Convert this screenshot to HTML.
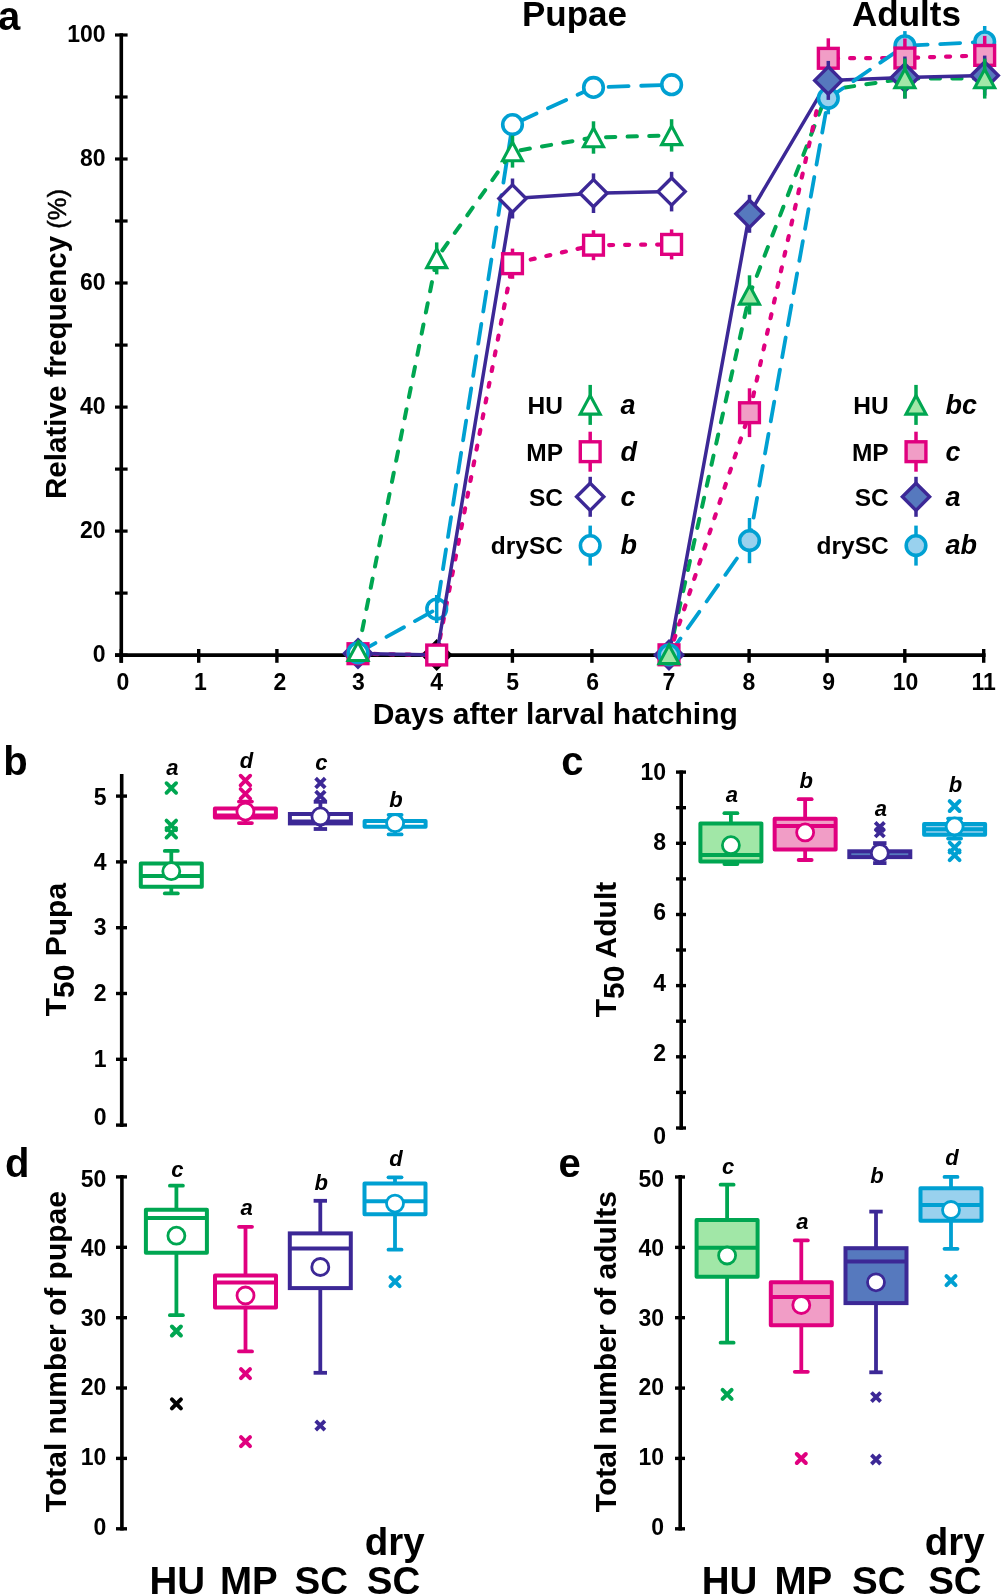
<!DOCTYPE html>
<html><head><meta charset="utf-8"><style>
html,body{margin:0;padding:0;background:#fff;}
body{width:1001px;height:1596px;overflow:hidden;}
svg{display:block;will-change:transform;}
</style></head><body>
<svg width="1001" height="1596" viewBox="0 0 1001 1596">
<rect width="1001" height="1596" fill="#fff"/>
<g stroke="#000" fill="none">
<line x1="121.3" y1="33.3" x2="121.3" y2="662.8" stroke-width="3.6"/>
<line x1="115" y1="655.1" x2="985.6" y2="655.1" stroke-width="3.7"/>
<line x1="115" y1="655.1" x2="127.6" y2="655.1" stroke-width="3.2"/>
<line x1="115" y1="593.1" x2="127.6" y2="593.1" stroke-width="3.2"/>
<line x1="115" y1="531.1" x2="127.6" y2="531.1" stroke-width="3.2"/>
<line x1="115" y1="469.1" x2="127.6" y2="469.1" stroke-width="3.2"/>
<line x1="115" y1="407.1" x2="127.6" y2="407.1" stroke-width="3.2"/>
<line x1="115" y1="345.1" x2="127.6" y2="345.1" stroke-width="3.2"/>
<line x1="115" y1="283.0" x2="127.6" y2="283.0" stroke-width="3.2"/>
<line x1="115" y1="221.0" x2="127.6" y2="221.0" stroke-width="3.2"/>
<line x1="115" y1="159.0" x2="127.6" y2="159.0" stroke-width="3.2"/>
<line x1="115" y1="97.0" x2="127.6" y2="97.0" stroke-width="3.2"/>
<line x1="115" y1="35.0" x2="127.6" y2="35.0" stroke-width="3.2"/>
<line x1="121.2" y1="649" x2="121.2" y2="662.8" stroke-width="3.4"/>
<line x1="198.7" y1="649" x2="198.7" y2="662.8" stroke-width="3.4"/>
<line x1="276.9" y1="649" x2="276.9" y2="662.8" stroke-width="3.4"/>
<line x1="357.8" y1="649" x2="357.8" y2="662.8" stroke-width="3.4"/>
<line x1="436.2" y1="649" x2="436.2" y2="662.8" stroke-width="3.4"/>
<line x1="512.4" y1="649" x2="512.4" y2="662.8" stroke-width="3.4"/>
<line x1="591.9" y1="649" x2="591.9" y2="662.8" stroke-width="3.4"/>
<line x1="670.0" y1="649" x2="670.0" y2="662.8" stroke-width="3.4"/>
<line x1="749.1" y1="649" x2="749.1" y2="662.8" stroke-width="3.4"/>
<line x1="827.1" y1="649" x2="827.1" y2="662.8" stroke-width="3.4"/>
<line x1="904.8" y1="649" x2="904.8" y2="662.8" stroke-width="3.4"/>
<line x1="983.7" y1="649" x2="983.7" y2="662.8" stroke-width="3.4"/>
</g>
<g font-family="Liberation Sans, sans-serif" font-weight="bold" font-size="23" fill="#000">
<text x="105.6" y="661.7" text-anchor="end">0</text>
<text x="105.6" y="537.7" text-anchor="end">20</text>
<text x="105.6" y="413.7" text-anchor="end">40</text>
<text x="105.6" y="289.6" text-anchor="end">60</text>
<text x="105.6" y="165.6" text-anchor="end">80</text>
<text x="105.6" y="41.6" text-anchor="end">100</text>
<text x="122.9" y="690.2" text-anchor="middle">0</text>
<text x="200.3" y="690.2" text-anchor="middle">1</text>
<text x="280.0" y="690.2" text-anchor="middle">2</text>
<text x="358.5" y="690.2" text-anchor="middle">3</text>
<text x="436.7" y="690.2" text-anchor="middle">4</text>
<text x="512.7" y="690.2" text-anchor="middle">5</text>
<text x="592.7" y="690.2" text-anchor="middle">6</text>
<text x="668.8" y="690.2" text-anchor="middle">7</text>
<text x="748.8" y="690.2" text-anchor="middle">8</text>
<text x="828.6" y="690.2" text-anchor="middle">9</text>
<text x="905.5" y="690.2" text-anchor="middle">10</text>
<text x="983.7" y="690.2" text-anchor="middle">11</text>
</g>
<text font-family="Liberation Sans, sans-serif" font-weight="bold" font-size="30" x="372.7" y="724.3">Days after larval hatching</text>
<text font-family="Liberation Sans, sans-serif" font-weight="bold" font-size="29.6" transform="translate(66,499) rotate(-90)">Relative frequency<tspan font-weight="normal" font-size="25.5" stroke="#000" stroke-width="0.45"> (%)</tspan></text>
<text font-family="Liberation Sans, sans-serif" font-weight="bold" font-size="35" x="522" y="25.5">Pupae</text>
<text font-family="Liberation Sans, sans-serif" font-weight="bold" font-size="35" x="852" y="25.5">Adults</text>
<text font-family="Liberation Sans, sans-serif" font-weight="bold" font-size="40" x="-1.9" y="30">a</text>
<path d="M358.00,639.80 L371.60,653.40 L358.00,667.00 L344.40,653.40 Z" fill="#fff" stroke="#3C2896" stroke-width="3.4" stroke-miterlimit="10"/>
<path d="M436.70,641.40 L450.30,655.00 L436.70,668.60 L423.10,655.00 Z" fill="#fff" stroke="#000" stroke-width="3.4" stroke-miterlimit="10"/>
<polyline points="358.00,653.70 436.70,655.00 512.50,263.70 593.50,245.20 671.60,244.40" fill="none" stroke="#E0007F" stroke-width="4.2" stroke-linecap="round" stroke-linejoin="round" stroke-dasharray="4 12"/>
<polyline points="358.00,652.80 436.70,609.00 512.50,124.60 593.50,87.40 671.60,84.70" fill="none" stroke="#00A0D2" stroke-width="3.8" stroke-linecap="round" stroke-linejoin="round" stroke-dasharray="20 12.6"/>
<polyline points="358.00,651.30 436.70,258.40 512.50,151.60 593.50,137.50 671.60,135.40" fill="none" stroke="#00A651" stroke-width="4.0" stroke-linecap="round" stroke-linejoin="round" stroke-dasharray="9.3 12.3"/>
<line x1="436.70" y1="595.00" x2="436.70" y2="623.00" stroke="#00A0D2" stroke-width="3.5"/><circle cx="436.70" cy="609.00" r="9.8" fill="none" stroke="#00A0D2" stroke-width="3.6"/>
<polyline points="358.00,653.40 436.70,655.00 512.50,198.50 593.50,193.20 671.60,191.60" fill="none" stroke="#3C2896" stroke-width="3.5" stroke-linecap="butt" stroke-linejoin="round"/>
<rect x="348.10" y="643.80" width="19.8" height="19.8" fill="#fff" stroke="#E0007F" stroke-width="3.4"/>
<rect x="426.80" y="645.10" width="19.8" height="19.8" fill="#fff" stroke="#E0007F" stroke-width="3.4"/>
<line x1="512.50" y1="248.60" x2="512.50" y2="278.80" stroke="#E0007F" stroke-width="3.5"/><rect x="502.60" y="253.80" width="19.8" height="19.8" fill="#fff" stroke="#E0007F" stroke-width="3.4"/>
<line x1="593.50" y1="230.20" x2="593.50" y2="260.20" stroke="#E0007F" stroke-width="3.5"/><rect x="583.60" y="235.30" width="19.8" height="19.8" fill="#fff" stroke="#E0007F" stroke-width="3.4"/>
<line x1="671.60" y1="229.40" x2="671.60" y2="259.40" stroke="#E0007F" stroke-width="3.5"/><rect x="661.70" y="234.50" width="19.8" height="19.8" fill="#fff" stroke="#E0007F" stroke-width="3.4"/>
<line x1="512.50" y1="178.50" x2="512.50" y2="218.50" stroke="#3C2896" stroke-width="3.5"/><path d="M512.50,184.90 L526.10,198.50 L512.50,212.10 L498.90,198.50 Z" fill="#fff" stroke="#3C2896" stroke-width="3.4" stroke-miterlimit="10"/>
<line x1="593.50" y1="173.40" x2="593.50" y2="213.00" stroke="#3C2896" stroke-width="3.5"/><path d="M593.50,179.60 L607.10,193.20 L593.50,206.80 L579.90,193.20 Z" fill="#fff" stroke="#3C2896" stroke-width="3.4" stroke-miterlimit="10"/>
<line x1="671.60" y1="171.80" x2="671.60" y2="211.40" stroke="#3C2896" stroke-width="3.5"/><path d="M671.60,178.00 L685.20,191.60 L671.60,205.20 L658.00,191.60 Z" fill="#fff" stroke="#3C2896" stroke-width="3.4" stroke-miterlimit="10"/>
<circle cx="358.00" cy="652.80" r="9.8" fill="#fff" stroke="#00A0D2" stroke-width="3.6"/>
<line x1="512.50" y1="115.60" x2="512.50" y2="133.60" stroke="#00A0D2" stroke-width="3.5"/><circle cx="512.50" cy="124.60" r="9.8" fill="#fff" stroke="#00A0D2" stroke-width="3.6"/>
<line x1="593.50" y1="79.40" x2="593.50" y2="95.40" stroke="#00A0D2" stroke-width="3.5"/><circle cx="593.50" cy="87.40" r="9.8" fill="#fff" stroke="#00A0D2" stroke-width="3.6"/>
<line x1="671.60" y1="76.70" x2="671.60" y2="92.70" stroke="#00A0D2" stroke-width="3.5"/><circle cx="671.60" cy="84.70" r="9.8" fill="#fff" stroke="#00A0D2" stroke-width="3.6"/>
<path d="M358.00,641.90 L368.00,660.50 L348.00,660.50 Z" fill="#fff" stroke="#00A651" stroke-width="3.1" stroke-miterlimit="10"/>
<line x1="436.70" y1="242.40" x2="436.70" y2="274.40" stroke="#00A651" stroke-width="3.5"/><path d="M436.70,249.00 L446.70,267.60 L426.70,267.60 Z" fill="#fff" stroke="#00A651" stroke-width="3.1" stroke-miterlimit="10"/>
<line x1="512.50" y1="135.60" x2="512.50" y2="167.60" stroke="#00A651" stroke-width="3.5"/><path d="M512.50,142.20 L522.50,160.80 L502.50,160.80 Z" fill="#fff" stroke="#00A651" stroke-width="3.1" stroke-miterlimit="10"/>
<line x1="593.50" y1="121.30" x2="593.50" y2="153.70" stroke="#00A651" stroke-width="3.5"/><path d="M593.50,128.10 L603.50,146.70 L583.50,146.70 Z" fill="#fff" stroke="#00A651" stroke-width="3.1" stroke-miterlimit="10"/>
<line x1="671.60" y1="119.20" x2="671.60" y2="151.60" stroke="#00A651" stroke-width="3.5"/><path d="M671.60,126.00 L681.60,144.60 L661.60,144.60 Z" fill="#fff" stroke="#00A651" stroke-width="3.1" stroke-miterlimit="10"/>
<polyline points="669.00,654.40 749.50,294.90 828.30,90.00 904.90,78.50 984.70,78.60" fill="none" stroke="#00A651" stroke-width="4.0" stroke-linecap="round" stroke-linejoin="round" stroke-dasharray="9.3 12.3"/>
<polyline points="669.00,654.90 749.50,213.80 828.30,80.40 904.90,77.50 984.70,75.60" fill="none" stroke="#3C2896" stroke-width="3.5" stroke-linecap="butt" stroke-linejoin="round"/>
<polyline points="669.00,654.80 749.50,412.70 828.30,58.30 904.90,58.00 984.70,55.40" fill="none" stroke="#E0007F" stroke-width="4.2" stroke-linecap="round" stroke-linejoin="round" stroke-dasharray="4 12"/>
<polyline points="669.00,654.80 749.50,540.60 828.30,98.30 904.90,45.80 984.70,41.80" fill="none" stroke="#00A0D2" stroke-width="3.8" stroke-linecap="round" stroke-linejoin="round" stroke-dasharray="20 12.6"/>
<path d="M669.00,641.30 L682.60,654.90 L669.00,668.50 L655.40,654.90 Z" fill="#5679BE" stroke="#3C2896" stroke-width="3.4" stroke-miterlimit="10"/>
<line x1="749.50" y1="194.80" x2="749.50" y2="232.80" stroke="#3C2896" stroke-width="3.5"/><path d="M749.50,200.20 L763.10,213.80 L749.50,227.40 L735.90,213.80 Z" fill="#5679BE" stroke="#3C2896" stroke-width="3.4" stroke-miterlimit="10"/>
<rect x="659.10" y="644.90" width="19.8" height="19.8" fill="#F19DC6" stroke="#E0007F" stroke-width="3.4"/>
<line x1="749.50" y1="388.30" x2="749.50" y2="437.10" stroke="#E0007F" stroke-width="3.5"/><rect x="739.60" y="402.80" width="19.8" height="19.8" fill="#F19DC6" stroke="#E0007F" stroke-width="3.4"/>
<circle cx="669.00" cy="654.80" r="9.8" fill="#99D1EE" stroke="#00A0D2" stroke-width="3.6"/>
<line x1="749.50" y1="518.00" x2="749.50" y2="563.20" stroke="#00A0D2" stroke-width="3.5"/><circle cx="749.50" cy="540.60" r="9.8" fill="#99D1EE" stroke="#00A0D2" stroke-width="3.6"/>
<path d="M669.00,645.00 L679.00,663.60 L659.00,663.60 Z" fill="#A1E7A7" stroke="#00A651" stroke-width="3.1" stroke-miterlimit="10"/>
<line x1="749.50" y1="275.30" x2="749.50" y2="314.50" stroke="#00A651" stroke-width="3.5"/><path d="M749.50,285.50 L759.50,304.10 L739.50,304.10 Z" fill="#A1E7A7" stroke="#00A651" stroke-width="3.1" stroke-miterlimit="10"/>
<line x1="828.30" y1="82.30" x2="828.30" y2="114.30" stroke="#00A0D2" stroke-width="3.5"/><circle cx="828.30" cy="98.30" r="9.8" fill="#99D1EE" stroke="#00A0D2" stroke-width="3.6"/>
<line x1="828.30" y1="38.30" x2="828.30" y2="78.30" stroke="#E0007F" stroke-width="3.5"/><rect x="818.40" y="48.40" width="19.8" height="19.8" fill="#F19DC6" stroke="#E0007F" stroke-width="3.4"/>
<line x1="828.30" y1="60.90" x2="828.30" y2="99.90" stroke="#3C2896" stroke-width="3.5"/><path d="M828.30,66.80 L841.90,80.40 L828.30,94.00 L814.70,80.40 Z" fill="#5679BE" stroke="#3C2896" stroke-width="3.4" stroke-miterlimit="10"/>
<line x1="904.90" y1="31.10" x2="904.90" y2="60.50" stroke="#00A0D2" stroke-width="3.5"/><circle cx="904.90" cy="45.80" r="9.8" fill="#99D1EE" stroke="#00A0D2" stroke-width="3.6"/>
<line x1="904.90" y1="38.50" x2="904.90" y2="77.50" stroke="#E0007F" stroke-width="3.5"/><rect x="895.00" y="48.10" width="19.8" height="19.8" fill="#F19DC6" stroke="#E0007F" stroke-width="3.4"/>
<line x1="904.90" y1="56.50" x2="904.90" y2="98.50" stroke="#3C2896" stroke-width="3.5"/><path d="M904.90,63.90 L918.50,77.50 L904.90,91.10 L891.30,77.50 Z" fill="#5679BE" stroke="#3C2896" stroke-width="3.4" stroke-miterlimit="10"/>
<line x1="904.90" y1="58.50" x2="904.90" y2="98.50" stroke="#00A651" stroke-width="3.5"/><path d="M904.90,69.10 L914.90,87.70 L894.90,87.70 Z" fill="#A1E7A7" stroke="#00A651" stroke-width="3.1" stroke-miterlimit="10"/>
<line x1="984.70" y1="26.00" x2="984.70" y2="57.60" stroke="#00A0D2" stroke-width="3.5"/><circle cx="984.70" cy="41.80" r="9.8" fill="#99D1EE" stroke="#00A0D2" stroke-width="3.6"/>
<line x1="984.70" y1="35.90" x2="984.70" y2="74.90" stroke="#E0007F" stroke-width="3.5"/><rect x="974.80" y="45.50" width="19.8" height="19.8" fill="#F19DC6" stroke="#E0007F" stroke-width="3.4"/>
<line x1="984.70" y1="55.60" x2="984.70" y2="95.60" stroke="#3C2896" stroke-width="3.5"/><path d="M984.70,62.00 L998.30,75.60 L984.70,89.20 L971.10,75.60 Z" fill="#5679BE" stroke="#3C2896" stroke-width="3.4" stroke-miterlimit="10"/>
<line x1="984.70" y1="58.60" x2="984.70" y2="98.60" stroke="#00A651" stroke-width="3.5"/><path d="M984.70,69.20 L994.70,87.80 L974.70,87.80 Z" fill="#A1E7A7" stroke="#00A651" stroke-width="3.1" stroke-miterlimit="10"/>
<line x1="590.20" y1="384.90" x2="590.20" y2="424.90" stroke="#00A651" stroke-width="3.5"/><path d="M590.20,395.50 L600.20,414.10 L580.20,414.10 Z" fill="#fff" stroke="#00A651" stroke-width="3.1" stroke-miterlimit="10"/>
<text font-family="Liberation Sans, sans-serif" font-weight="bold" font-size="24.5" x="563" y="413.7" text-anchor="end">HU</text>
<text font-family="Liberation Sans, sans-serif" font-weight="bold" font-style="italic" font-size="27" x="620.5" y="413.7">a</text>
<line x1="590.20" y1="431.70" x2="590.20" y2="471.70" stroke="#E0007F" stroke-width="3.5"/><rect x="580.30" y="441.80" width="19.8" height="19.8" fill="#fff" stroke="#E0007F" stroke-width="3.4"/>
<text font-family="Liberation Sans, sans-serif" font-weight="bold" font-size="24.5" x="563" y="460.6" text-anchor="end">MP</text>
<text font-family="Liberation Sans, sans-serif" font-weight="bold" font-style="italic" font-size="27" x="620.5" y="460.6">d</text>
<line x1="590.20" y1="476.80" x2="590.20" y2="516.80" stroke="#3C2896" stroke-width="3.5"/><path d="M590.20,483.20 L603.80,496.80 L590.20,510.40 L576.60,496.80 Z" fill="#fff" stroke="#3C2896" stroke-width="3.4" stroke-miterlimit="10"/>
<text font-family="Liberation Sans, sans-serif" font-weight="bold" font-size="24.5" x="563" y="506.0" text-anchor="end">SC</text>
<text font-family="Liberation Sans, sans-serif" font-weight="bold" font-style="italic" font-size="27" x="620.5" y="506.0">c</text>
<line x1="590.20" y1="525.60" x2="590.20" y2="565.60" stroke="#00A0D2" stroke-width="3.5"/><circle cx="590.20" cy="545.60" r="9.8" fill="#fff" stroke="#00A0D2" stroke-width="3.6"/>
<text font-family="Liberation Sans, sans-serif" font-weight="bold" font-size="24.5" x="563" y="554.2" text-anchor="end">drySC</text>
<text font-family="Liberation Sans, sans-serif" font-weight="bold" font-style="italic" font-size="27" x="620.5" y="554.2">b</text>
<line x1="916.00" y1="384.90" x2="916.00" y2="424.90" stroke="#00A651" stroke-width="3.5"/><path d="M916.00,395.50 L926.00,414.10 L906.00,414.10 Z" fill="#A1E7A7" stroke="#00A651" stroke-width="3.1" stroke-miterlimit="10"/>
<text font-family="Liberation Sans, sans-serif" font-weight="bold" font-size="24.5" x="888.7" y="413.7" text-anchor="end">HU</text>
<text font-family="Liberation Sans, sans-serif" font-weight="bold" font-style="italic" font-size="27" x="945.5" y="413.7">bc</text>
<line x1="916.00" y1="431.70" x2="916.00" y2="471.70" stroke="#E0007F" stroke-width="3.5"/><rect x="906.10" y="441.80" width="19.8" height="19.8" fill="#F19DC6" stroke="#E0007F" stroke-width="3.4"/>
<text font-family="Liberation Sans, sans-serif" font-weight="bold" font-size="24.5" x="888.7" y="460.6" text-anchor="end">MP</text>
<text font-family="Liberation Sans, sans-serif" font-weight="bold" font-style="italic" font-size="27" x="945.5" y="460.6">c</text>
<line x1="916.00" y1="476.80" x2="916.00" y2="516.80" stroke="#3C2896" stroke-width="3.5"/><path d="M916.00,483.20 L929.60,496.80 L916.00,510.40 L902.40,496.80 Z" fill="#5679BE" stroke="#3C2896" stroke-width="3.4" stroke-miterlimit="10"/>
<text font-family="Liberation Sans, sans-serif" font-weight="bold" font-size="24.5" x="888.7" y="506.0" text-anchor="end">SC</text>
<text font-family="Liberation Sans, sans-serif" font-weight="bold" font-style="italic" font-size="27" x="945.5" y="506.0">a</text>
<line x1="916.00" y1="525.60" x2="916.00" y2="565.60" stroke="#00A0D2" stroke-width="3.5"/><circle cx="916.00" cy="545.60" r="9.8" fill="#99D1EE" stroke="#00A0D2" stroke-width="3.6"/>
<text font-family="Liberation Sans, sans-serif" font-weight="bold" font-size="24.5" x="888.7" y="554.2" text-anchor="end">drySC</text>
<text font-family="Liberation Sans, sans-serif" font-weight="bold" font-style="italic" font-size="27" x="945.5" y="554.2">ab</text>
<text font-family="Liberation Sans, sans-serif" font-weight="bold" font-size="40" x="3.2" y="774.7">b</text>
<line x1="121.7" y1="774.1" x2="121.7" y2="1126.9" stroke="#000" stroke-width="3.6"/>
<line x1="116" y1="1125.1" x2="127" y2="1125.1" stroke="#000" stroke-width="3.4"/>
<line x1="116" y1="1059.3" x2="127" y2="1059.3" stroke="#000" stroke-width="3.4"/>
<line x1="116" y1="993.5" x2="127" y2="993.5" stroke="#000" stroke-width="3.4"/>
<line x1="116" y1="927.7" x2="127" y2="927.7" stroke="#000" stroke-width="3.4"/>
<line x1="116" y1="861.9" x2="127" y2="861.9" stroke="#000" stroke-width="3.4"/>
<line x1="116" y1="796.1" x2="127" y2="796.1" stroke="#000" stroke-width="3.4"/>
<text font-family="Liberation Sans, sans-serif" font-weight="bold" font-size="23" x="106.5" y="804.5" text-anchor="end">5</text>
<text font-family="Liberation Sans, sans-serif" font-weight="bold" font-size="23" x="106.5" y="869.7" text-anchor="end">4</text>
<text font-family="Liberation Sans, sans-serif" font-weight="bold" font-size="23" x="106.5" y="935.3" text-anchor="end">3</text>
<text font-family="Liberation Sans, sans-serif" font-weight="bold" font-size="23" x="106.5" y="1001.0" text-anchor="end">2</text>
<text font-family="Liberation Sans, sans-serif" font-weight="bold" font-size="23" x="106.5" y="1066.6" text-anchor="end">1</text>
<text font-family="Liberation Sans, sans-serif" font-weight="bold" font-size="23" x="106.5" y="1125.1" text-anchor="end">0</text>
<text font-family="Liberation Sans, sans-serif" font-weight="bold" font-size="30" transform="translate(66.2,1016.3) rotate(-90)">T<tspan dy="8">50</tspan><tspan dy="-8"> Pupa</tspan></text>
<line x1="171.3" y1="850.9" x2="171.3" y2="863.5" stroke="#00A651" stroke-width="3.8"/>
<line x1="171.3" y1="886.7" x2="171.3" y2="893.4" stroke="#00A651" stroke-width="3.8"/>
<line x1="164.8" y1="850.9" x2="177.8" y2="850.9" stroke="#00A651" stroke-width="3.8" stroke-linecap="round"/>
<line x1="164.8" y1="893.4" x2="177.8" y2="893.4" stroke="#00A651" stroke-width="3.8" stroke-linecap="round"/>
<rect x="140.8" y="863.5" width="61.0" height="23.2" fill="#fff" stroke="#00A651" stroke-width="4" stroke-linejoin="round"/>
<line x1="140.8" y1="875.9" x2="201.8" y2="875.9" stroke="#00A651" stroke-width="4"/>
<circle cx="171.3" cy="871.2" r="8.5" fill="#fff" stroke="#00A651" stroke-width="2.8"/>
<path d="M166.5,783.2 L176.10000000000002,792.8 M176.10000000000002,783.2 L166.5,792.8" stroke="#00A651" stroke-width="3.8" stroke-linecap="round" fill="none"/>
<path d="M166.5,820.6 L176.10000000000002,830.2 M176.10000000000002,820.6 L166.5,830.2" stroke="#00A651" stroke-width="3.8" stroke-linecap="round" fill="none"/>
<path d="M166.5,828.0 L176.10000000000002,837.6 M176.10000000000002,828.0 L166.5,837.6" stroke="#00A651" stroke-width="3.8" stroke-linecap="round" fill="none"/>
<text font-family="Liberation Sans, sans-serif" font-weight="bold" font-style="italic" font-size="22" x="172.3" y="774.5" text-anchor="middle">a</text>
<line x1="245.4" y1="801.6" x2="245.4" y2="808.4" stroke="#E0007F" stroke-width="3.8"/>
<line x1="245.4" y1="817.5" x2="245.4" y2="823.1" stroke="#E0007F" stroke-width="3.8"/>
<line x1="238.9" y1="801.6" x2="251.9" y2="801.6" stroke="#E0007F" stroke-width="3.8" stroke-linecap="round"/>
<line x1="238.9" y1="823.1" x2="251.9" y2="823.1" stroke="#E0007F" stroke-width="3.8" stroke-linecap="round"/>
<rect x="214.9" y="808.4" width="61.0" height="9.1" fill="#fff" stroke="#E0007F" stroke-width="4" stroke-linejoin="round"/>
<line x1="214.9" y1="815.5" x2="275.9" y2="815.5" stroke="#E0007F" stroke-width="4"/>
<circle cx="245.4" cy="811.6" r="8.5" fill="#fff" stroke="#E0007F" stroke-width="2.8"/>
<path d="M240.6,775.7 L250.20000000000002,785.3 M250.20000000000002,775.7 L240.6,785.3" stroke="#E0007F" stroke-width="3.8" stroke-linecap="round" fill="none"/>
<path d="M240.6,789.0 L250.20000000000002,798.6 M250.20000000000002,789.0 L240.6,798.6" stroke="#E0007F" stroke-width="3.8" stroke-linecap="round" fill="none"/>
<text font-family="Liberation Sans, sans-serif" font-weight="bold" font-style="italic" font-size="22" x="246.4" y="767.6" text-anchor="middle">d</text>
<line x1="320.4" y1="801.8" x2="320.4" y2="814.0" stroke="#3C2896" stroke-width="3.8"/>
<line x1="320.4" y1="823.4" x2="320.4" y2="829.0" stroke="#3C2896" stroke-width="3.8"/>
<line x1="313.7" y1="801.8" x2="327.09999999999997" y2="801.8" stroke="#3C2896" stroke-width="3.8" stroke-linecap="butt"/>
<line x1="313.7" y1="829.0" x2="327.09999999999997" y2="829.0" stroke="#3C2896" stroke-width="3.8" stroke-linecap="butt"/>
<rect x="289.9" y="814.0" width="61.0" height="9.4" fill="#fff" stroke="#3C2896" stroke-width="4" stroke-linejoin="miter"/>
<line x1="289.9" y1="821.5" x2="350.9" y2="821.5" stroke="#3C2896" stroke-width="4"/>
<circle cx="320.4" cy="816.4" r="8.5" fill="#fff" stroke="#3C2896" stroke-width="2.8"/>
<path d="M315.59999999999997,778.2 L325.2,787.8 M325.2,778.2 L315.59999999999997,787.8" stroke="#3C2896" stroke-width="3.8" stroke-linecap="butt" fill="none"/>
<path d="M315.59999999999997,791.2 L325.2,800.8 M325.2,791.2 L315.59999999999997,800.8" stroke="#3C2896" stroke-width="3.8" stroke-linecap="butt" fill="none"/>
<text font-family="Liberation Sans, sans-serif" font-weight="bold" font-style="italic" font-size="22" x="321.4" y="770.0" text-anchor="middle">c</text>
<line x1="395.1" y1="814.8" x2="395.1" y2="820.9" stroke="#00A0D2" stroke-width="3.8"/>
<line x1="395.1" y1="826.8" x2="395.1" y2="834.4" stroke="#00A0D2" stroke-width="3.8"/>
<line x1="388.6" y1="814.8" x2="401.6" y2="814.8" stroke="#00A0D2" stroke-width="3.8" stroke-linecap="round"/>
<line x1="388.6" y1="834.4" x2="401.6" y2="834.4" stroke="#00A0D2" stroke-width="3.8" stroke-linecap="round"/>
<rect x="364.6" y="820.9" width="61.0" height="5.9" fill="#fff" stroke="#00A0D2" stroke-width="4" stroke-linejoin="round"/>
<circle cx="395.1" cy="823.2" r="8.5" fill="#fff" stroke="#00A0D2" stroke-width="2.8"/>
<text font-family="Liberation Sans, sans-serif" font-weight="bold" font-style="italic" font-size="22" x="396.1" y="806.8" text-anchor="middle">b</text>
<text font-family="Liberation Sans, sans-serif" font-weight="bold" font-size="40" x="561.3" y="774.8">c</text>
<line x1="681.2" y1="770.4" x2="681.2" y2="1129.8" stroke="#000" stroke-width="3.6"/>
<line x1="676" y1="1128.0" x2="686" y2="1128.0" stroke="#000" stroke-width="3.4"/>
<line x1="676" y1="1092.4" x2="686" y2="1092.4" stroke="#000" stroke-width="3.4"/>
<line x1="676" y1="1056.8" x2="686" y2="1056.8" stroke="#000" stroke-width="3.4"/>
<line x1="676" y1="1021.2" x2="686" y2="1021.2" stroke="#000" stroke-width="3.4"/>
<line x1="676" y1="985.6" x2="686" y2="985.6" stroke="#000" stroke-width="3.4"/>
<line x1="676" y1="950.0" x2="686" y2="950.0" stroke="#000" stroke-width="3.4"/>
<line x1="676" y1="914.5" x2="686" y2="914.5" stroke="#000" stroke-width="3.4"/>
<line x1="676" y1="878.9" x2="686" y2="878.9" stroke="#000" stroke-width="3.4"/>
<line x1="676" y1="843.3" x2="686" y2="843.3" stroke="#000" stroke-width="3.4"/>
<line x1="676" y1="807.7" x2="686" y2="807.7" stroke="#000" stroke-width="3.4"/>
<line x1="676" y1="772.1" x2="686" y2="772.1" stroke="#000" stroke-width="3.4"/>
<text font-family="Liberation Sans, sans-serif" font-weight="bold" font-size="23" x="666.0" y="779.5" text-anchor="end">10</text>
<text font-family="Liberation Sans, sans-serif" font-weight="bold" font-size="23" x="666.0" y="849.9" text-anchor="end">8</text>
<text font-family="Liberation Sans, sans-serif" font-weight="bold" font-size="23" x="666.0" y="920.3" text-anchor="end">6</text>
<text font-family="Liberation Sans, sans-serif" font-weight="bold" font-size="23" x="666.0" y="990.7" text-anchor="end">4</text>
<text font-family="Liberation Sans, sans-serif" font-weight="bold" font-size="23" x="666.0" y="1061.1" text-anchor="end">2</text>
<text font-family="Liberation Sans, sans-serif" font-weight="bold" font-size="23" x="666.0" y="1143.5" text-anchor="end">0</text>
<text font-family="Liberation Sans, sans-serif" font-weight="bold" font-size="30" transform="translate(615.9,1017.3) rotate(-90)">T<tspan dy="8">50</tspan><tspan dy="-8"> Adult</tspan></text>
<line x1="730.9" y1="813.2" x2="730.9" y2="823.5" stroke="#00A651" stroke-width="3.8"/>
<line x1="730.9" y1="861.4" x2="730.9" y2="864.0" stroke="#00A651" stroke-width="3.8"/>
<line x1="724.4" y1="813.2" x2="737.4" y2="813.2" stroke="#00A651" stroke-width="3.8" stroke-linecap="round"/>
<line x1="724.4" y1="864.0" x2="737.4" y2="864.0" stroke="#00A651" stroke-width="3.8" stroke-linecap="round"/>
<rect x="700.4" y="823.5" width="61.0" height="37.9" fill="#A1E7A7" stroke="#00A651" stroke-width="4" stroke-linejoin="round"/>
<line x1="700.4" y1="854.9" x2="761.4" y2="854.9" stroke="#00A651" stroke-width="4"/>
<circle cx="730.9" cy="845.2" r="8.5" fill="#fff" stroke="#00A651" stroke-width="2.8"/>
<text font-family="Liberation Sans, sans-serif" font-weight="bold" font-style="italic" font-size="22" x="731.9" y="802.0" text-anchor="middle">a</text>
<line x1="805.15" y1="799.2" x2="805.15" y2="818.8" stroke="#E0007F" stroke-width="3.8"/>
<line x1="805.15" y1="849.6" x2="805.15" y2="860.0" stroke="#E0007F" stroke-width="3.8"/>
<line x1="798.65" y1="799.2" x2="811.65" y2="799.2" stroke="#E0007F" stroke-width="3.8" stroke-linecap="round"/>
<line x1="798.65" y1="860.0" x2="811.65" y2="860.0" stroke="#E0007F" stroke-width="3.8" stroke-linecap="round"/>
<rect x="774.65" y="818.8" width="61.0" height="30.8" fill="#F19DC6" stroke="#E0007F" stroke-width="4" stroke-linejoin="round"/>
<line x1="774.65" y1="826.0" x2="835.65" y2="826.0" stroke="#E0007F" stroke-width="4"/>
<circle cx="805.15" cy="832.4" r="8.5" fill="#fff" stroke="#E0007F" stroke-width="2.8"/>
<text font-family="Liberation Sans, sans-serif" font-weight="bold" font-style="italic" font-size="22" x="806.15" y="787.6" text-anchor="middle">b</text>
<line x1="879.8" y1="843.1" x2="879.8" y2="851.3" stroke="#3C2896" stroke-width="3.8"/>
<line x1="879.8" y1="857.1" x2="879.8" y2="863.1" stroke="#3C2896" stroke-width="3.8"/>
<line x1="873.0999999999999" y1="843.1" x2="886.5" y2="843.1" stroke="#3C2896" stroke-width="3.8" stroke-linecap="butt"/>
<line x1="873.0999999999999" y1="863.1" x2="886.5" y2="863.1" stroke="#3C2896" stroke-width="3.8" stroke-linecap="butt"/>
<rect x="849.3" y="851.3" width="61.0" height="5.8" fill="#5679BE" stroke="#3C2896" stroke-width="4" stroke-linejoin="miter"/>
<circle cx="879.8" cy="853.1" r="8.5" fill="#fff" stroke="#3C2896" stroke-width="2.8"/>
<path d="M875.15,822.4 L884.4499999999999,831.6 M884.4499999999999,822.4 L875.15,831.6" stroke="#3C2896" stroke-width="3.8" stroke-linecap="butt" fill="none"/>
<path d="M875.15,827.8 L884.4499999999999,837.0 M884.4499999999999,827.8 L875.15,837.0" stroke="#3C2896" stroke-width="3.8" stroke-linecap="butt" fill="none"/>
<text font-family="Liberation Sans, sans-serif" font-weight="bold" font-style="italic" font-size="22" x="880.8" y="816.2" text-anchor="middle">a</text>
<line x1="954.6" y1="818.6" x2="954.6" y2="824.0" stroke="#00A0D2" stroke-width="3.8"/>
<line x1="954.6" y1="834.8" x2="954.6" y2="838.6" stroke="#00A0D2" stroke-width="3.8"/>
<line x1="948.1" y1="818.6" x2="961.1" y2="818.6" stroke="#00A0D2" stroke-width="3.8" stroke-linecap="round"/>
<line x1="948.1" y1="838.6" x2="961.1" y2="838.6" stroke="#00A0D2" stroke-width="3.8" stroke-linecap="round"/>
<rect x="924.1" y="824.0" width="61.0" height="10.8" fill="#99D1EE" stroke="#00A0D2" stroke-width="4" stroke-linejoin="round"/>
<line x1="924.1" y1="829.3" x2="985.1" y2="829.3" stroke="#00A0D2" stroke-width="4"/>
<circle cx="954.6" cy="826.4" r="8.5" fill="#fff" stroke="#00A0D2" stroke-width="2.8"/>
<path d="M949.7,801.2 L959.5,811.0 M959.5,801.2 L949.7,811.0" stroke="#00A0D2" stroke-width="4" stroke-linecap="round" fill="none"/>
<path d="M949.7,842.6 L959.5,852.4 M959.5,842.6 L949.7,852.4" stroke="#00A0D2" stroke-width="4" stroke-linecap="round" fill="none"/>
<path d="M949.7,850.3 L959.5,860.1 M959.5,850.3 L949.7,860.1" stroke="#00A0D2" stroke-width="4" stroke-linecap="round" fill="none"/>
<text font-family="Liberation Sans, sans-serif" font-weight="bold" font-style="italic" font-size="22" x="955.6" y="792.0" text-anchor="middle">b</text>
<text font-family="Liberation Sans, sans-serif" font-weight="bold" font-size="40" x="5" y="1176.7">d</text>
<line x1="121.9" y1="1175.0" x2="121.9" y2="1530.5" stroke="#000" stroke-width="3.6"/>
<line x1="116" y1="1528.8" x2="127" y2="1528.8" stroke="#000" stroke-width="3.4"/>
<line x1="116" y1="1458.4" x2="127" y2="1458.4" stroke="#000" stroke-width="3.4"/>
<line x1="116" y1="1388.0" x2="127" y2="1388.0" stroke="#000" stroke-width="3.4"/>
<line x1="116" y1="1317.7" x2="127" y2="1317.7" stroke="#000" stroke-width="3.4"/>
<line x1="116" y1="1247.3" x2="127" y2="1247.3" stroke="#000" stroke-width="3.4"/>
<line x1="116" y1="1176.9" x2="127" y2="1176.9" stroke="#000" stroke-width="3.4"/>
<text font-family="Liberation Sans, sans-serif" font-weight="bold" font-size="23" x="106.3" y="1186.6" text-anchor="end">50</text>
<text font-family="Liberation Sans, sans-serif" font-weight="bold" font-size="23" x="106.3" y="1256.2" text-anchor="end">40</text>
<text font-family="Liberation Sans, sans-serif" font-weight="bold" font-size="23" x="106.3" y="1325.8" text-anchor="end">30</text>
<text font-family="Liberation Sans, sans-serif" font-weight="bold" font-size="23" x="106.3" y="1395.4" text-anchor="end">20</text>
<text font-family="Liberation Sans, sans-serif" font-weight="bold" font-size="23" x="106.3" y="1465.0" text-anchor="end">10</text>
<text font-family="Liberation Sans, sans-serif" font-weight="bold" font-size="23" x="106.3" y="1534.6" text-anchor="end">0</text>
<text font-family="Liberation Sans, sans-serif" font-weight="bold" font-size="30" transform="translate(66.2,1512.2) rotate(-90)">Total number of pupae</text>
<line x1="176.4" y1="1185.7" x2="176.4" y2="1209.7" stroke="#00A651" stroke-width="3.8"/>
<line x1="176.4" y1="1252.8" x2="176.4" y2="1315.2" stroke="#00A651" stroke-width="3.8"/>
<line x1="169.9" y1="1185.7" x2="182.9" y2="1185.7" stroke="#00A651" stroke-width="3.8" stroke-linecap="round"/>
<line x1="169.9" y1="1315.2" x2="182.9" y2="1315.2" stroke="#00A651" stroke-width="3.8" stroke-linecap="round"/>
<rect x="145.9" y="1209.7" width="61.0" height="43.1" fill="#fff" stroke="#00A651" stroke-width="4" stroke-linejoin="round"/>
<line x1="145.9" y1="1218.0" x2="206.9" y2="1218.0" stroke="#00A651" stroke-width="4"/>
<circle cx="176.4" cy="1235.7" r="8.5" fill="#fff" stroke="#00A651" stroke-width="2.8"/>
<path d="M171.9,1326.5 L180.9,1335.5 M180.9,1326.5 L171.9,1335.5" stroke="#00A651" stroke-width="4" stroke-linecap="round" fill="none"/>
<path d="M171.9,1399.3 L180.9,1408.3 M180.9,1399.3 L171.9,1408.3" stroke="#000" stroke-width="4" stroke-linecap="round" fill="none"/>
<text font-family="Liberation Sans, sans-serif" font-weight="bold" font-style="italic" font-size="22" x="177.4" y="1177.1" text-anchor="middle">c</text>
<line x1="245.5" y1="1226.8" x2="245.5" y2="1275.5" stroke="#E0007F" stroke-width="3.8"/>
<line x1="245.5" y1="1307.5" x2="245.5" y2="1351.4" stroke="#E0007F" stroke-width="3.8"/>
<line x1="239.0" y1="1226.8" x2="252.0" y2="1226.8" stroke="#E0007F" stroke-width="3.8" stroke-linecap="round"/>
<line x1="239.0" y1="1351.4" x2="252.0" y2="1351.4" stroke="#E0007F" stroke-width="3.8" stroke-linecap="round"/>
<rect x="215.0" y="1275.5" width="61.0" height="32.0" fill="#fff" stroke="#E0007F" stroke-width="4" stroke-linejoin="round"/>
<line x1="215.0" y1="1282.6" x2="276.0" y2="1282.6" stroke="#E0007F" stroke-width="4"/>
<circle cx="245.5" cy="1295.5" r="8.5" fill="#fff" stroke="#E0007F" stroke-width="2.8"/>
<path d="M241.0,1369.2 L250.0,1378.2 M250.0,1369.2 L241.0,1378.2" stroke="#E0007F" stroke-width="4" stroke-linecap="round" fill="none"/>
<path d="M241.0,1437.2 L250.0,1446.2 M250.0,1437.2 L241.0,1446.2" stroke="#E0007F" stroke-width="4" stroke-linecap="round" fill="none"/>
<text font-family="Liberation Sans, sans-serif" font-weight="bold" font-style="italic" font-size="22" x="246.5" y="1215.4" text-anchor="middle">a</text>
<line x1="320.3" y1="1200.8" x2="320.3" y2="1233.4" stroke="#3C2896" stroke-width="3.8"/>
<line x1="320.3" y1="1288.1" x2="320.3" y2="1372.8" stroke="#3C2896" stroke-width="3.8"/>
<line x1="313.6" y1="1200.8" x2="327.0" y2="1200.8" stroke="#3C2896" stroke-width="3.8" stroke-linecap="butt"/>
<line x1="313.6" y1="1372.8" x2="327.0" y2="1372.8" stroke="#3C2896" stroke-width="3.8" stroke-linecap="butt"/>
<rect x="289.8" y="1233.4" width="61.0" height="54.7" fill="#fff" stroke="#3C2896" stroke-width="4" stroke-linejoin="miter"/>
<line x1="289.8" y1="1248.5" x2="350.8" y2="1248.5" stroke="#3C2896" stroke-width="4"/>
<circle cx="320.3" cy="1267.0" r="8.5" fill="#fff" stroke="#3C2896" stroke-width="2.8"/>
<path d="M315.7,1420.9 L324.90000000000003,1430.1 M324.90000000000003,1420.9 L315.7,1430.1" stroke="#3C2896" stroke-width="3.8" stroke-linecap="butt" fill="none"/>
<text font-family="Liberation Sans, sans-serif" font-weight="bold" font-style="italic" font-size="22" x="321.3" y="1189.5" text-anchor="middle">b</text>
<line x1="395.0" y1="1177.3" x2="395.0" y2="1183.6" stroke="#00A0D2" stroke-width="3.8"/>
<line x1="395.0" y1="1214.2" x2="395.0" y2="1249.7" stroke="#00A0D2" stroke-width="3.8"/>
<line x1="388.5" y1="1177.3" x2="401.5" y2="1177.3" stroke="#00A0D2" stroke-width="3.8" stroke-linecap="round"/>
<line x1="388.5" y1="1249.7" x2="401.5" y2="1249.7" stroke="#00A0D2" stroke-width="3.8" stroke-linecap="round"/>
<rect x="364.5" y="1183.6" width="61.0" height="30.6" fill="#fff" stroke="#00A0D2" stroke-width="4" stroke-linejoin="round"/>
<line x1="364.5" y1="1201.2" x2="425.5" y2="1201.2" stroke="#00A0D2" stroke-width="4"/>
<circle cx="395.0" cy="1203.6" r="8.5" fill="#fff" stroke="#00A0D2" stroke-width="2.8"/>
<path d="M390.5,1277.1 L399.5,1286.1 M399.5,1277.1 L390.5,1286.1" stroke="#00A0D2" stroke-width="4" stroke-linecap="round" fill="none"/>
<text font-family="Liberation Sans, sans-serif" font-weight="bold" font-style="italic" font-size="22" x="396.0" y="1166.0" text-anchor="middle">d</text>
<text font-family="Liberation Sans, sans-serif" font-weight="bold" font-size="40" x="558.6" y="1176.5">e</text>
<line x1="680.2" y1="1175.0" x2="680.2" y2="1530.6" stroke="#000" stroke-width="3.6"/>
<line x1="675" y1="1528.8" x2="685" y2="1528.8" stroke="#000" stroke-width="3.4"/>
<line x1="675" y1="1458.4" x2="685" y2="1458.4" stroke="#000" stroke-width="3.4"/>
<line x1="675" y1="1388.1" x2="685" y2="1388.1" stroke="#000" stroke-width="3.4"/>
<line x1="675" y1="1317.7" x2="685" y2="1317.7" stroke="#000" stroke-width="3.4"/>
<line x1="675" y1="1247.4" x2="685" y2="1247.4" stroke="#000" stroke-width="3.4"/>
<line x1="675" y1="1177.0" x2="685" y2="1177.0" stroke="#000" stroke-width="3.4"/>
<text font-family="Liberation Sans, sans-serif" font-weight="bold" font-size="23" x="664.0" y="1186.6" text-anchor="end">50</text>
<text font-family="Liberation Sans, sans-serif" font-weight="bold" font-size="23" x="664.0" y="1256.2" text-anchor="end">40</text>
<text font-family="Liberation Sans, sans-serif" font-weight="bold" font-size="23" x="664.0" y="1325.8" text-anchor="end">30</text>
<text font-family="Liberation Sans, sans-serif" font-weight="bold" font-size="23" x="664.0" y="1395.4" text-anchor="end">20</text>
<text font-family="Liberation Sans, sans-serif" font-weight="bold" font-size="23" x="664.0" y="1465.0" text-anchor="end">10</text>
<text font-family="Liberation Sans, sans-serif" font-weight="bold" font-size="23" x="664.0" y="1534.6" text-anchor="end">0</text>
<text font-family="Liberation Sans, sans-serif" font-weight="bold" font-size="30" transform="translate(616.2,1512.2) rotate(-90)">Total number of adults</text>
<line x1="727.1" y1="1184.7" x2="727.1" y2="1220.1" stroke="#00A651" stroke-width="3.8"/>
<line x1="727.1" y1="1276.7" x2="727.1" y2="1342.7" stroke="#00A651" stroke-width="3.8"/>
<line x1="720.6" y1="1184.7" x2="733.6" y2="1184.7" stroke="#00A651" stroke-width="3.8" stroke-linecap="round"/>
<line x1="720.6" y1="1342.7" x2="733.6" y2="1342.7" stroke="#00A651" stroke-width="3.8" stroke-linecap="round"/>
<rect x="696.6" y="1220.1" width="61.0" height="56.6" fill="#A1E7A7" stroke="#00A651" stroke-width="4" stroke-linejoin="round"/>
<line x1="696.6" y1="1247.8" x2="757.6" y2="1247.8" stroke="#00A651" stroke-width="4"/>
<circle cx="727.1" cy="1255.5" r="8.5" fill="#fff" stroke="#00A651" stroke-width="2.8"/>
<path d="M722.6,1389.8 L731.6,1398.8 M731.6,1389.8 L722.6,1398.8" stroke="#00A651" stroke-width="4" stroke-linecap="round" fill="none"/>
<text font-family="Liberation Sans, sans-serif" font-weight="bold" font-style="italic" font-size="22" x="728.1" y="1173.6" text-anchor="middle">c</text>
<line x1="801.3" y1="1240.4" x2="801.3" y2="1282.3" stroke="#E0007F" stroke-width="3.8"/>
<line x1="801.3" y1="1325.2" x2="801.3" y2="1371.8" stroke="#E0007F" stroke-width="3.8"/>
<line x1="794.8" y1="1240.4" x2="807.8" y2="1240.4" stroke="#E0007F" stroke-width="3.8" stroke-linecap="round"/>
<line x1="794.8" y1="1371.8" x2="807.8" y2="1371.8" stroke="#E0007F" stroke-width="3.8" stroke-linecap="round"/>
<rect x="770.8" y="1282.3" width="61.0" height="42.9" fill="#F19DC6" stroke="#E0007F" stroke-width="4" stroke-linejoin="round"/>
<line x1="770.8" y1="1297.0" x2="831.8" y2="1297.0" stroke="#E0007F" stroke-width="4"/>
<circle cx="801.3" cy="1305.0" r="8.5" fill="#fff" stroke="#E0007F" stroke-width="2.8"/>
<path d="M796.8,1454.0 L805.8,1463.0 M805.8,1454.0 L796.8,1463.0" stroke="#E0007F" stroke-width="4" stroke-linecap="round" fill="none"/>
<text font-family="Liberation Sans, sans-serif" font-weight="bold" font-style="italic" font-size="22" x="802.3" y="1229.0" text-anchor="middle">a</text>
<line x1="876.0" y1="1211.6" x2="876.0" y2="1248.2" stroke="#3C2896" stroke-width="3.8"/>
<line x1="876.0" y1="1303.1" x2="876.0" y2="1372.3" stroke="#3C2896" stroke-width="3.8"/>
<line x1="869.3" y1="1211.6" x2="882.7" y2="1211.6" stroke="#3C2896" stroke-width="3.8" stroke-linecap="butt"/>
<line x1="869.3" y1="1372.3" x2="882.7" y2="1372.3" stroke="#3C2896" stroke-width="3.8" stroke-linecap="butt"/>
<rect x="845.5" y="1248.2" width="61.0" height="54.9" fill="#5679BE" stroke="#3C2896" stroke-width="4" stroke-linejoin="miter"/>
<line x1="845.5" y1="1261.6" x2="906.5" y2="1261.6" stroke="#3C2896" stroke-width="4"/>
<circle cx="876.0" cy="1282.3" r="8.5" fill="#fff" stroke="#3C2896" stroke-width="2.8"/>
<path d="M871.4,1392.5 L880.6,1401.7 M880.6,1392.5 L871.4,1401.7" stroke="#3C2896" stroke-width="3.8" stroke-linecap="butt" fill="none"/>
<path d="M871.4,1454.9 L880.6,1464.1 M880.6,1454.9 L871.4,1464.1" stroke="#3C2896" stroke-width="3.8" stroke-linecap="butt" fill="none"/>
<text font-family="Liberation Sans, sans-serif" font-weight="bold" font-style="italic" font-size="22" x="877.0" y="1183.1" text-anchor="middle">b</text>
<line x1="951.0" y1="1176.9" x2="951.0" y2="1188.2" stroke="#00A0D2" stroke-width="3.8"/>
<line x1="951.0" y1="1220.8" x2="951.0" y2="1248.8" stroke="#00A0D2" stroke-width="3.8"/>
<line x1="944.5" y1="1176.9" x2="957.5" y2="1176.9" stroke="#00A0D2" stroke-width="3.8" stroke-linecap="round"/>
<line x1="944.5" y1="1248.8" x2="957.5" y2="1248.8" stroke="#00A0D2" stroke-width="3.8" stroke-linecap="round"/>
<rect x="920.5" y="1188.2" width="61.0" height="32.6" fill="#99D1EE" stroke="#00A0D2" stroke-width="4" stroke-linejoin="round"/>
<line x1="920.5" y1="1205.1" x2="981.5" y2="1205.1" stroke="#00A0D2" stroke-width="4"/>
<circle cx="951.0" cy="1210.0" r="8.5" fill="#fff" stroke="#00A0D2" stroke-width="2.8"/>
<path d="M946.5,1276.2 L955.5,1285.2 M955.5,1276.2 L946.5,1285.2" stroke="#00A0D2" stroke-width="4" stroke-linecap="round" fill="none"/>
<text font-family="Liberation Sans, sans-serif" font-weight="bold" font-style="italic" font-size="22" x="952.0" y="1164.5" text-anchor="middle">d</text>
<text font-family="Liberation Sans, sans-serif" font-weight="bold" font-size="38.5" x="177.2" y="1594" text-anchor="middle">HU</text>
<text font-family="Liberation Sans, sans-serif" font-weight="bold" font-size="38.5" x="248.9" y="1594" text-anchor="middle">MP</text>
<text font-family="Liberation Sans, sans-serif" font-weight="bold" font-size="38.5" x="321.3" y="1594" text-anchor="middle">SC</text>
<text font-family="Liberation Sans, sans-serif" font-weight="bold" font-size="38.5" x="393.5" y="1594" text-anchor="middle">SC</text>
<text font-family="Liberation Sans, sans-serif" font-weight="bold" font-size="38.5" x="729.6" y="1594" text-anchor="middle">HU</text>
<text font-family="Liberation Sans, sans-serif" font-weight="bold" font-size="38.5" x="803.4" y="1594" text-anchor="middle">MP</text>
<text font-family="Liberation Sans, sans-serif" font-weight="bold" font-size="38.5" x="878.8" y="1594" text-anchor="middle">SC</text>
<text font-family="Liberation Sans, sans-serif" font-weight="bold" font-size="38.5" x="954.9" y="1594" text-anchor="middle">SC</text>
<text font-family="Liberation Sans, sans-serif" font-weight="bold" font-size="38.5" x="394.7" y="1554.5" text-anchor="middle">dry</text>
<text font-family="Liberation Sans, sans-serif" font-weight="bold" font-size="38.5" x="954.8" y="1554.5" text-anchor="middle">dry</text>
</svg>
</body></html>
